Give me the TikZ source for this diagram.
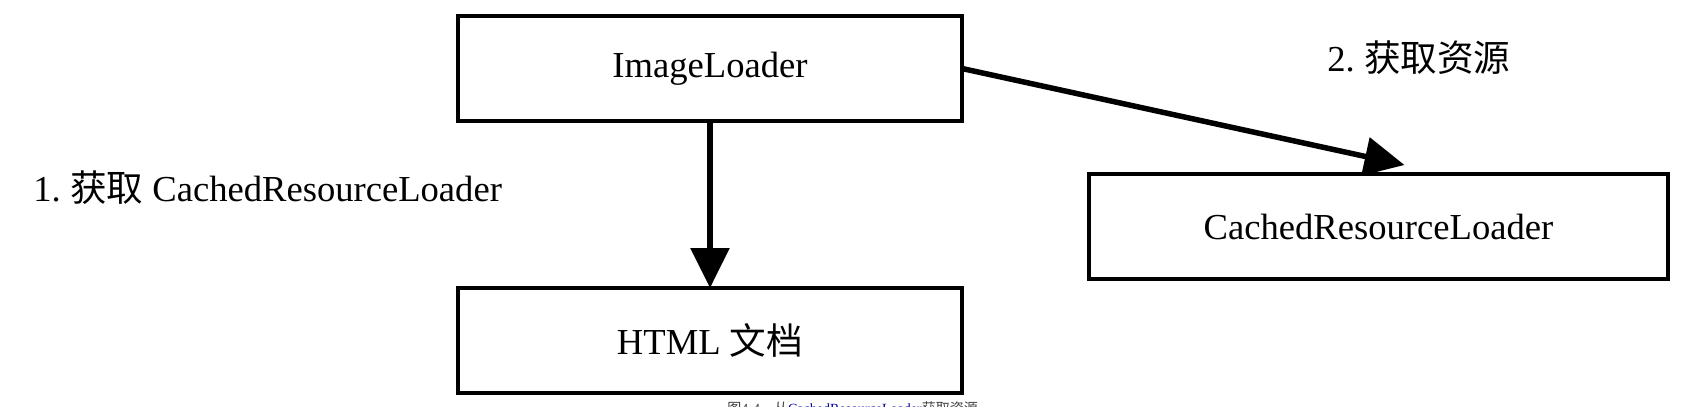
\documentclass[tikz,border=0pt]{standalone}
\usepackage{fontspec}
\setmainfont{Liberation Serif}
\newfontfamily\cjk{Noto Sans CJK SC}
\usetikzlibrary{arrows.meta}

\tikzset{
  box/.style={draw,line width=2.25pt,minimum width=252pt,minimum height=52.5pt,inner sep=0pt,outer sep=0pt,font=\fontsize{18.3}{22}\selectfont},
  lbl/.style={font=\fontsize{18.3}{22}\selectfont,inner sep=0pt},
  arr/.style={-{Triangle[length=20pt,width=19pt]},line width=2.75pt}
}

\begin{document}
\begin{tikzpicture}[x=0.5pt,y=-0.5pt]
\useasboundingbox[fill=white] (0,0) rectangle (1703,407);
\node[box] (loader) at (710,68.5) {ImageLoader};
\node[box] (html) at (710,340.5) {HTML {\cjk 文档}};
\node[box,minimum width=289.5pt] (crl) at (1378.5,226.5) {CachedResourceLoader};
\node[lbl,anchor=west] (step1) at (33,188) {1.\ {\cjk 获取} CachedResourceLoader};
\node[lbl,anchor=west] (step2) at (1327,58) {2.\ {\cjk 获取资源}};
\node[anchor=north west,inner sep=0pt,font=\fontsize{7}{8}\selectfont,text=black!75] (cap) at (727,401) {{\cjk 图}4-4\quad{\cjk 从}\textcolor{blue!60!black}{CachedResourceLoader}{\cjk 获取资源}};
\draw[arr] (loader) -- (html);
\draw[arr] (loader.east) -- ([xshift=13pt,yshift=4.5pt]crl.north);
\end{tikzpicture}
\end{document}
